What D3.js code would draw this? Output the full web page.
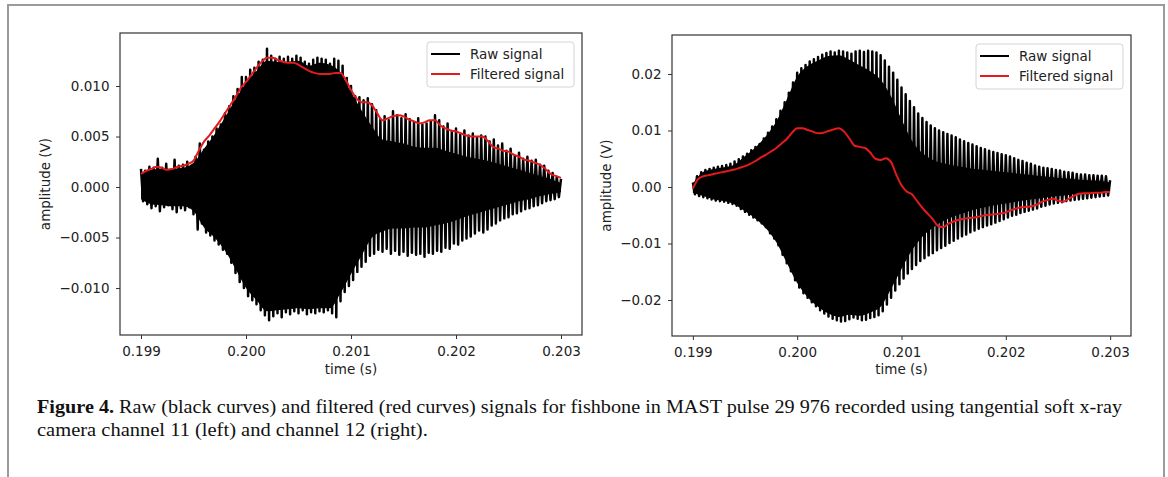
<!DOCTYPE html>
<html lang="en">
<head>
<meta charset="UTF-8">
<title>Figure 4 - raw and filtered signals</title>
<script src="https://cdn.jsdelivr.net/npm/d3@7"></script>
<style>
  body { margin: 0; background: #fff; }
  svg { display: block; }
  .tick text { font-family: "DejaVu Sans", sans-serif; font-size: 13.5px; fill: #222; }
  .tick line { stroke: #333; }
  .lbl { font-family: "DejaVu Sans", sans-serif; font-size: 13.5px; fill: #222; }
  .caption { font-family: "Liberation Serif", serif; font-size: 19.5px; fill: #111; }
</style>
</head>
<body>
<svg id="fig" width="1168" height="477"></svg>
<script>
// shared time axis (s)
const xTicks = [0.199, 0.200, 0.201, 0.202, 0.203];
const rawStart = 0.199, rawStep = 0.00004;     // raw signal: one peak and one trough per step
const coreStart = 0.199, coreStep = 0.0001;    // band where the raw trace is solid black
const filtStart = 0.199, filtStep = 0.00005;   // filtered signal sampling

// channel 11 (left panel)
const ch11Top = [
  0.0018, 0.0016, 0.0020, 0.0019, 0.0028, 0.0019, 0.0023, 0.0017, 0.0027, 0.0021,
  0.0022, 0.0025, 0.0021, 0.0030, 0.0043, 0.0037, 0.0045, 0.0050, 0.0058, 0.0062,
  0.0073, 0.0080, 0.0090, 0.0097, 0.0109, 0.0109, 0.0116, 0.0118, 0.0124, 0.0126,
  0.0137, 0.0130, 0.0127, 0.0129, 0.0127, 0.0129, 0.0127, 0.0130, 0.0128, 0.0124,
  0.0122, 0.0126, 0.0128, 0.0127, 0.0126, 0.0122, 0.0127, 0.0125, 0.0120, 0.0108,
  0.0100, 0.0090, 0.0089, 0.0086, 0.0088, 0.0082, 0.0076, 0.0067, 0.0070, 0.0066,
  0.0075, 0.0071, 0.0068, 0.0072, 0.0067, 0.0064, 0.0068, 0.0062, 0.0063, 0.0065,
  0.0071, 0.0066, 0.0060, 0.0063, 0.0055, 0.0058, 0.0052, 0.0056, 0.0051, 0.0053,
  0.0049, 0.0051, 0.0050, 0.0045, 0.0047, 0.0041, 0.0043, 0.0036, 0.0038, 0.0031,
  0.0034, 0.0028, 0.0030, 0.0026, 0.0027, 0.0022, 0.0021, 0.0016, 0.0014, 0.0010,
  0.0008
];
const ch11Bottom = [
  -0.0014, -0.0017, -0.0021, -0.0019, -0.0024, -0.0020, -0.0018, -0.0022, -0.0025, -0.0021,
  -0.0023, -0.0020, -0.0027, -0.0042, -0.0036, -0.0045, -0.0048, -0.0053, -0.0057, -0.0062,
  -0.0066, -0.0075, -0.0085, -0.0094, -0.0100, -0.0108, -0.0112, -0.0116, -0.0122, -0.0127,
  -0.0132, -0.0128, -0.0125, -0.0129, -0.0124, -0.0126, -0.0123, -0.0125, -0.0122, -0.0126,
  -0.0124, -0.0125, -0.0123, -0.0124, -0.0122, -0.0125, -0.0129, -0.0113, -0.0104, -0.0098,
  -0.0092, -0.0084, -0.0079, -0.0074, -0.0068, -0.0066, -0.0062, -0.0064, -0.0061, -0.0066,
  -0.0063, -0.0067, -0.0064, -0.0068, -0.0065, -0.0067, -0.0066, -0.0069, -0.0065, -0.0066,
  -0.0063, -0.0064, -0.0060, -0.0061, -0.0056, -0.0057, -0.0053, -0.0051, -0.0049, -0.0046,
  -0.0043, -0.0045, -0.0042, -0.0038, -0.0036, -0.0033, -0.0031, -0.0030, -0.0027, -0.0026,
  -0.0024, -0.0022, -0.0021, -0.0019, -0.0018, -0.0016, -0.0014, -0.0013, -0.0012, -0.0010
];
const ch11CoreTop = [
  0.0014, 0.0017, 0.0018, 0.0018, 0.0019, 0.0024, 0.0038, 0.0052, 0.0069, 0.0087,
  0.0103, 0.0115, 0.0125, 0.0124, 0.0124, 0.0125, 0.0120, 0.0123, 0.0121, 0.0113,
  0.0094, 0.0076, 0.0060, 0.0047, 0.0045, 0.0043, 0.0040, 0.0039, 0.0039, 0.0036,
  0.0033, 0.0030, 0.0028, 0.0026, 0.0023, 0.0020, 0.0017, 0.0014, 0.0011, 0.0008,
  0.0004
];
const ch11CoreBottom = [
  -0.0012, -0.0017, -0.0018, -0.0019, -0.0019, -0.0024, -0.0040, -0.0050, -0.0063, -0.0081,
  -0.0100, -0.0112, -0.0123, -0.0122, -0.0121, -0.0120, -0.0121, -0.0120, -0.0120, -0.0105,
  -0.0086, -0.0068, -0.0050, -0.0044, -0.0041, -0.0041, -0.0040, -0.0040, -0.0038, -0.0036,
  -0.0033, -0.0029, -0.0026, -0.0023, -0.0020, -0.0017, -0.0014, -0.0012, -0.0009, -0.0007,
  -0.0005
];
const ch11Filtered = [
  0.0013, 0.0016, 0.0018, 0.0020, 0.0019, 0.0017, 0.0018, 0.0020, 0.0021, 0.0023,
  0.0026, 0.0036, 0.0045, 0.0051, 0.0058, 0.0065, 0.0073, 0.0081, 0.0089, 0.0098,
  0.0104, 0.0111, 0.0118, 0.0124, 0.0128, 0.0128, 0.0126, 0.0124, 0.0123, 0.0123,
  0.0121, 0.0118, 0.0115, 0.0113, 0.0112, 0.0112, 0.0112, 0.0113, 0.0113, 0.0106,
  0.0096, 0.0088, 0.0084, 0.0084, 0.0081, 0.0073, 0.0066, 0.0068, 0.0070, 0.0071,
  0.0070, 0.0067, 0.0065, 0.0063, 0.0064, 0.0066, 0.0066, 0.0061, 0.0058, 0.0056,
  0.0055, 0.0053, 0.0051, 0.0050, 0.0050, 0.0050, 0.0046, 0.0040, 0.0038, 0.0036,
  0.0035, 0.0032, 0.0030, 0.0027, 0.0026, 0.0024, 0.0022, 0.0018, 0.0013, 0.0011,
  0.0009
];
const ch11YTicks = [0.010, 0.005, 0.000, -0.005, -0.010];

// channel 12 (right panel)
const ch12Top = [
  0.0008, 0.0019, 0.0026, 0.0030, 0.0032, 0.0034, 0.0036, 0.0037, 0.0039, 0.0041,
  0.0045, 0.0049, 0.0054, 0.0059, 0.0065, 0.0071, 0.0076, 0.0086, 0.0096, 0.0107,
  0.0120, 0.0135, 0.0150, 0.0167, 0.0185, 0.0202, 0.0210, 0.0216, 0.0222, 0.0226,
  0.0230, 0.0234, 0.0237, 0.0240, 0.0238, 0.0241, 0.0240, 0.0238, 0.0236, 0.0240,
  0.0241, 0.0239, 0.0241, 0.0240, 0.0238, 0.0233, 0.0224, 0.0213, 0.0202, 0.0190,
  0.0176, 0.0164, 0.0152, 0.0141, 0.0130, 0.0122, 0.0115, 0.0109, 0.0104, 0.0100,
  0.0097, 0.0094, 0.0091, 0.0088, 0.0084, 0.0081, 0.0078, 0.0075, 0.0072, 0.0069,
  0.0067, 0.0064, 0.0062, 0.0060, 0.0058, 0.0056, 0.0054, 0.0051, 0.0048, 0.0046,
  0.0043, 0.0041, 0.0038, 0.0036, 0.0034, 0.0033, 0.0032, 0.0030, 0.0029, 0.0027,
  0.0026, 0.0025, 0.0023, 0.0022, 0.0022, 0.0021, 0.0021, 0.0020, 0.0020, 0.0019,
  0.0012
];
const ch12Bottom = [
  -0.0013, -0.0016, -0.0018, -0.0020, -0.0022, -0.0024, -0.0025, -0.0026, -0.0028, -0.0030,
  -0.0033, -0.0039, -0.0044, -0.0049, -0.0054, -0.0059, -0.0064, -0.0071, -0.0082, -0.0091,
  -0.0103, -0.0120, -0.0135, -0.0149, -0.0165, -0.0178, -0.0188, -0.0196, -0.0204, -0.0211,
  -0.0218, -0.0224, -0.0229, -0.0233, -0.0236, -0.0238, -0.0237, -0.0234, -0.0231, -0.0233,
  -0.0236, -0.0235, -0.0232, -0.0230, -0.0227, -0.0220, -0.0208, -0.0196, -0.0183, -0.0172,
  -0.0162, -0.0153, -0.0145, -0.0138, -0.0131, -0.0126, -0.0121, -0.0117, -0.0112, -0.0108,
  -0.0104, -0.0099, -0.0095, -0.0091, -0.0087, -0.0084, -0.0080, -0.0077, -0.0074, -0.0071,
  -0.0068, -0.0066, -0.0063, -0.0060, -0.0057, -0.0054, -0.0051, -0.0049, -0.0046, -0.0044,
  -0.0042, -0.0040, -0.0038, -0.0035, -0.0033, -0.0031, -0.0029, -0.0028, -0.0027, -0.0025,
  -0.0024, -0.0023, -0.0022, -0.0021, -0.0020, -0.0019, -0.0018, -0.0017, -0.0016, -0.0015
];
const ch12CoreTop = [
  0.0006, 0.0027, 0.0032, 0.0035, 0.0040, 0.0055, 0.0070, 0.0090, 0.0116, 0.0155,
  0.0195, 0.0214, 0.0224, 0.0232, 0.0233, 0.0225, 0.0215, 0.0205, 0.0190, 0.0160,
  0.0120, 0.0082, 0.0060, 0.0048, 0.0042, 0.0038, 0.0035, 0.0032, 0.0030, 0.0028,
  0.0026, 0.0024, 0.0022, 0.0020, 0.0018, 0.0016, 0.0015, 0.0013, 0.0012, 0.0011,
  0.0008
];
const ch12CoreBottom = [
  -0.0010, -0.0016, -0.0022, -0.0025, -0.0031, -0.0043, -0.0056, -0.0073, -0.0098, -0.0134,
  -0.0170, -0.0195, -0.0212, -0.0224, -0.0230, -0.0226, -0.0228, -0.0222, -0.0212, -0.0180,
  -0.0145, -0.0112, -0.0088, -0.0072, -0.0060, -0.0052, -0.0046, -0.0040, -0.0036, -0.0032,
  -0.0029, -0.0026, -0.0023, -0.0021, -0.0018, -0.0016, -0.0014, -0.0012, -0.0011, -0.0010,
  -0.0008
];
const ch12Filtered = [
  -0.0003, 0.0014, 0.0019, 0.0021, 0.0023, 0.0025, 0.0027, 0.0029, 0.0031, 0.0034,
  0.0037, 0.0041, 0.0046, 0.0052, 0.0057, 0.0063, 0.0069, 0.0077, 0.0085, 0.0096,
  0.0104, 0.0104, 0.0101, 0.0098, 0.0095, 0.0096, 0.0099, 0.0102, 0.0104, 0.0098,
  0.0086, 0.0073, 0.0071, 0.0069, 0.0061, 0.0050, 0.0048, 0.0051, 0.0044, 0.0022,
  0.0003, -0.0008, -0.0013, -0.0025, -0.0037, -0.0047, -0.0057, -0.0069, -0.0071, -0.0065,
  -0.0061, -0.0058, -0.0056, -0.0055, -0.0054, -0.0052, -0.0050, -0.0049, -0.0048, -0.0047,
  -0.0045, -0.0041, -0.0038, -0.0036, -0.0035, -0.0034, -0.0031, -0.0026, -0.0023, -0.0021,
  -0.0024, -0.0026, -0.0021, -0.0016, -0.0012, -0.0011, -0.0011, -0.0010, -0.0010, -0.0009,
  -0.0009
];
const ch12YTicks = [0.02, 0.01, 0.00, -0.01, -0.02];

const legendLabels = ["Raw signal", "Filtered signal"];
const captionBold = "Figure 4.";
const captionLine1 = " Raw (black curves) and filtered (red curves) signals for fishbone in MAST pulse 29 976 recorded using tangential soft x-ray";
const captionLine2 = "camera channel 11 (left) and channel 12 (right).";

const svg = d3.select("#fig");
svg.append("rect").attr("width", 1168).attr("height", 477).attr("fill", "#fff");

// page frame (open at the bottom)
svg.append("path")
  .attr("d", "M8,477V5H1164V477")
  .attr("fill", "none")
  .attr("stroke", "#9b9b9b")
  .attr("stroke-width", 2);

function panel(opts) {
  const { left, right, top, bottom, yDomain, yTicks, yFmt, tops, bottoms, coreTop, coreBottom, filtered, id } = opts;

  const x = d3.scaleLinear().domain([0.1988, 0.2032]).range([left, right]);
  const y = d3.scaleLinear().domain(yDomain).range([bottom, top]);

  const g = svg.append("g");

  g.append("clipPath").attr("id", id)
    .append("rect")
    .attr("x", left).attr("y", top)
    .attr("width", right - left).attr("height", bottom - top);

  const plot = g.append("g").attr("clip-path", `url(#${id})`);

  // solid part of the raw trace, where the oscillation is too fast to resolve
  const core = coreTop.map((v, i) => ({ t: coreStart + i * coreStep, hi: v, lo: coreBottom[i] }));
  plot.append("path")
    .datum(core)
    .attr("d", d3.area().x(d => x(d.t)).y0(d => y(d.lo)).y1(d => y(d.hi)).curve(d3.curveMonotoneX))
    .attr("fill", "#000");

  // raw signal: alternate peak / trough
  const rawPts = [];
  tops.forEach((v, i) => {
    rawPts.push([rawStart + i * rawStep, v]);
    if (i < bottoms.length) rawPts.push([rawStart + (i + 0.5) * rawStep, bottoms[i]]);
  });
  const rawLine = d3.line().x(d => x(d[0])).y(d => y(d[1]));

  plot.append("path")
    .datum(rawPts)
    .attr("d", rawLine)
    .attr("fill", "none")
    .attr("stroke", "#000")
    .attr("stroke-width", 2.5)
    .attr("stroke-linejoin", "round");

  const filtPts = filtered.map((v, i) => [filtStart + i * filtStep, v]);
  const filtLine = d3.line().x(d => x(d[0])).y(d => y(d[1])).curve(d3.curveMonotoneX);
  plot.append("path")
    .datum(filtPts)
    .attr("d", filtLine)
    .attr("fill", "none")
    .attr("stroke", "#e41a1c")
    .attr("stroke-width", 2);

  // axes
  g.append("g")
    .attr("transform", `translate(0,${bottom})`)
    .call(d3.axisBottom(x).tickValues(xTicks).tickFormat(d3.format(".3f")).tickSize(4).tickPadding(7.5))
    .call(a => a.select(".domain").remove());

  g.append("g")
    .attr("transform", `translate(${left},0)`)
    .call(d3.axisLeft(y).tickValues(yTicks).tickFormat(d3.format(yFmt)).tickSize(4).tickPadding(6.5))
    .call(a => a.select(".domain").remove());

  g.append("rect")
    .attr("x", left).attr("y", top)
    .attr("width", right - left).attr("height", bottom - top)
    .attr("fill", "none")
    .attr("stroke", "#333")
    .attr("stroke-width", 1.2);

  g.append("text").attr("class", "lbl")
    .attr("x", (left + right) / 2).attr("y", 374)
    .attr("text-anchor", "middle")
    .text("time (s)");

  g.append("text").attr("class", "lbl")
    .attr("transform", `translate(${opts.yTitleX},${(top + bottom) / 2}) rotate(-90)`)
    .attr("text-anchor", "middle")
    .attr("dy", "0.35em")
    .text("amplitude (V)");

  // legend
  const lx = right - 155, ly = top + 9;
  const lg = g.append("g").attr("transform", `translate(${lx},${ly})`);
  lg.append("rect")
    .attr("width", 147).attr("height", 45).attr("rx", 3)
    .attr("fill", "#fff").attr("fill-opacity", 0.85)
    .attr("stroke", "#d4d4d4");
  lg.selectAll("line").data(legendLabels).join("line")
    .attr("x1", 4).attr("x2", 33)
    .attr("y1", (d, i) => 12 + i * 20).attr("y2", (d, i) => 12 + i * 20)
    .attr("stroke", (d, i) => i === 0 ? "#000" : "#e41a1c")
    .attr("stroke-width", 2);
  lg.selectAll("text").data(legendLabels).join("text")
    .attr("class", "lbl")
    .attr("x", 43).attr("y", (d, i) => 12 + i * 20)
    .attr("dy", "0.35em")
    .text(d => d);
}

panel({
  id: "clipL", left: 120, right: 582, top: 33, bottom: 335,
  yDomain: [-0.01465, 0.01525], yTicks: ch11YTicks, yFmt: ".3f",
  tops: ch11Top, bottoms: ch11Bottom, coreTop: ch11CoreTop, coreBottom: ch11CoreBottom,
  filtered: ch11Filtered, yTitleX: 45
});

panel({
  id: "clipR", left: 672, right: 1131, top: 35, bottom: 336,
  yDomain: [-0.02637, 0.0269], yTicks: ch12YTicks, yFmt: ".2f",
  tops: ch12Top, bottoms: ch12Bottom, coreTop: ch12CoreTop, coreBottom: ch12CoreBottom,
  filtered: ch12Filtered, yTitleX: 606
});

// caption: condensed serif, squeezed horizontally to the printed width
function captionLine(parts, yPos, width) {
  const g = svg.append("g");
  const t = g.append("text").attr("class", "caption").attr("x", 0).attr("y", 0);
  parts.forEach(p => t.append("tspan").attr("font-weight", p.bold ? "bold" : null).text(p.text));
  const natural = t.node().getComputedTextLength();
  g.attr("transform", `translate(37,${yPos}) scale(${width / natural},1)`);
}
captionLine([{ text: captionBold, bold: true }, { text: captionLine1 }], 413, 1086);
captionLine([{ text: captionLine2 }], 436, 391);
</script>
</body>
</html>
